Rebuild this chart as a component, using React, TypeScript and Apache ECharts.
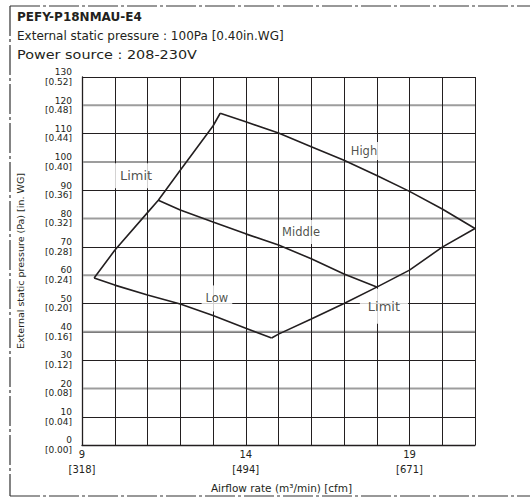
import React, { useEffect, useRef } from 'react';
import * as echarts from 'echarts';

const modelName = 'PEFY-P18NMAU-E4';
const headerLines = ['External static pressure : 100Pa [0.40in.WG]', 'Power source : 208-230V'];

const xAxisTitle = 'Airflow rate (m³/min) [cfm]';
const yAxisTitle = 'External static pressure (Pa) [in. WG]';

const xTickValues = [9, 14, 19];
const xTickCfm = ['[318]', '[494]', '[671]'];
const yTickValues = [0, 10, 20, 30, 40, 50, 60, 70, 80, 90, 100, 110, 120, 130];
const yTickInWG = ['[0.00]', '[0.04]', '[0.08]', '[0.12]', '[0.16]', '[0.20]', '[0.24]', '[0.28]', '[0.32]', '[0.36]', '[0.40]', '[0.44]', '[0.48]', '[0.52]'];
const grayGridValues = [20, 40, 60, 80, 100, 120];
const xRange = [9, 21];

const limitLeft = [[9.37, 59], [10, 68.8], [11, 82.1], [11.33, 86.5], [12, 97.1], [13, 112.7], [13.22, 117.2]];
const high = [[13.22, 117.2], [14, 114.2], [15, 110.2], [16, 105.4], [17, 100.6], [18, 95.2], [19, 89.6], [20, 83.4], [21, 76.5]];
const middle = [[11.33, 86.5], [12, 83], [13, 78.8], [14, 74.6], [15, 70.7], [16, 65.8], [17, 60.4], [18, 55.8]];
const low = [[9.37, 59], [10, 56.5], [11, 53], [12, 49.8], [13, 45.8], [14, 41.3], [14.79, 37.8]];
const limitRight = [[14.79, 37.8], [15, 39.2], [16, 44.5], [17, 50], [18, 55.8], [19, 61.8], [20, 69.9], [21, 76.5]];

const curveNames = ['Limit', 'High', 'Middle', 'Low', 'Limit '];
const curves = [limitLeft, high, middle, low, limitRight];

const labelTexts = ['Limit', 'High', 'Middle', 'Low', 'Limit'];
const labelAnchors = [[10.65, 95.1], [17.61, 103.9], [15.69, 75.3], [13.12, 51.8], [18.22, 49]];

const INK = '#231f20';
const FONT = '"DejaVu Sans", "Liberation Sans", Arial, sans-serif';

export default function App() {
  const ref = useRef<HTMLDivElement>(null);
  useEffect(() => {
    if (!ref.current) return;
    const chart = echarts.init(ref.current, null, { renderer: 'svg' });

    const labelStyles = [
      { fontSize: 13, padding: [6, 8, 6, 8] },
      { fontSize: 11.5, padding: [3, 3, 3, 3] },
      { fontSize: 11.5, padding: [8, 2, 4, 2] },
      { fontSize: 11.5, padding: [7, 4, 7, 4] },
      { fontSize: 13, padding: [13, 8, 9, 8] },
    ];

    const dash = [30, 3, 3, 3];

    chart.setOption({
      animation: false,
      textStyle: { fontFamily: FONT, color: INK },
      grid: { left: 82, top: 77, width: 393, height: 374, containLabel: false },
      xAxis: {
        type: 'value',
        min: 9,
        max: 21,
        interval: 1,
        z: 3,
        axisLine: { show: true, lineStyle: { color: INK, width: 1.3 } },
        axisTick: { show: false },
        splitLine: { show: true, lineStyle: { color: INK, width: 1 } },
        axisLabel: {
          margin: 2,
          fontSize: 10,
          lineHeight: 15,
          color: INK,
          fontFamily: FONT,
          formatter: (v: number) => {
            const i = xTickValues.indexOf(Math.round(v));
            return i >= 0 ? `${xTickValues[i]}\n${xTickCfm[i]}` : '';
          },
        },
        name: xAxisTitle,
        nameLocation: 'middle',
        nameGap: 31,
        nameTextStyle: { fontSize: 10.5, color: INK, fontFamily: FONT, padding: [0, 0, 0, 6] },
      },
      yAxis: {
        type: 'value',
        min: 0,
        max: 130,
        interval: 10,
        z: 0,
        axisLine: { show: true, lineStyle: { color: INK, width: 1.3 } },
        axisTick: { show: false },
        splitLine: { show: true, lineStyle: { color: INK, width: 1 } },
        axisLabel: {
          margin: 10,
          fontSize: 9,
          lineHeight: 9.5,
          padding: [4, 0, 0, 0],
          color: INK,
          fontFamily: FONT,
          formatter: (v: number) => {
            const i = yTickValues.indexOf(Math.round(v));
            return i >= 0 ? `${yTickValues[i]}\n${yTickInWG[i]}` : '';
          },
        },
        name: yAxisTitle,
        nameLocation: 'middle',
        nameGap: 57,
        nameTextStyle: { fontSize: 9.5, color: INK, fontFamily: FONT },
      },
      series: [
        ...grayGridValues.map((v) => ({
          type: 'line',
          name: `grid-${v}`,
          data: [[xRange[0], v], [xRange[1], v]],
          z: 1,
          silent: true,
          symbol: 'none',
          lineStyle: { color: '#9d9d9d', width: 2 },
        })),
        {
          type: 'scatter',
          name: 'labels',
          z: 4,
          silent: true,
          symbolSize: 0,
          data: labelAnchors.map((p, i) => ({
            value: p,
            name: labelTexts[i],
            label: {
              show: true,
              position: 'inside',
              formatter: labelTexts[i],
              color: INK,
              fontFamily: FONT,
              fontSize: labelStyles[i].fontSize,
              backgroundColor: '#ffffff',
              padding: labelStyles[i].padding,
            },
          })),
        },
        ...curves.map((d, i) => ({
          type: 'line',
          name: curveNames[i],
          data: d,
          z: 5,
          symbol: 'none',
          silent: true,
          lineStyle: { color: INK, width: 1.6 },
        })),
      ],
      graphic: [
        { type: 'line', shape: { x1: 10, y1: 6, x2: 530, y2: 6 }, style: { stroke: '#333', lineWidth: 1.2, lineDash: dash } },
        { type: 'line', shape: { x1: 10, y1: 6, x2: 10, y2: 496 }, style: { stroke: '#333', lineWidth: 1.2, lineDash: dash } },
        { type: 'line', shape: { x1: 10, y1: 496, x2: 530, y2: 496 }, style: { stroke: '#333', lineWidth: 1.2, lineDash: dash } },
        {
          type: 'text', x: 17, y: 16.7, scaleX: 1.0,
          style: { text: modelName, fontFamily: FONT, fontWeight: 'bold', fontSize: 12, fill: INK, verticalAlign: 'middle', align: 'left' },
        },
        {
          type: 'text', x: 17, y: 36.3, scaleX: 1.0,
          style: { text: headerLines[0], fontFamily: FONT, fontSize: 12, fill: INK, verticalAlign: 'middle', align: 'left' },
        },
        {
          type: 'text', x: 17, y: 55, scaleX: 1.2,
          style: { text: headerLines[1], fontFamily: FONT, fontSize: 12, fill: INK, verticalAlign: 'middle', align: 'left' },
        },
      ],
    });
    return () => chart.dispose();
  }, []);
  return <div ref={ref} style={{ position: 'fixed', left: 0, top: 0, width: 530, height: 498, background: '#fff' }} />;
}
